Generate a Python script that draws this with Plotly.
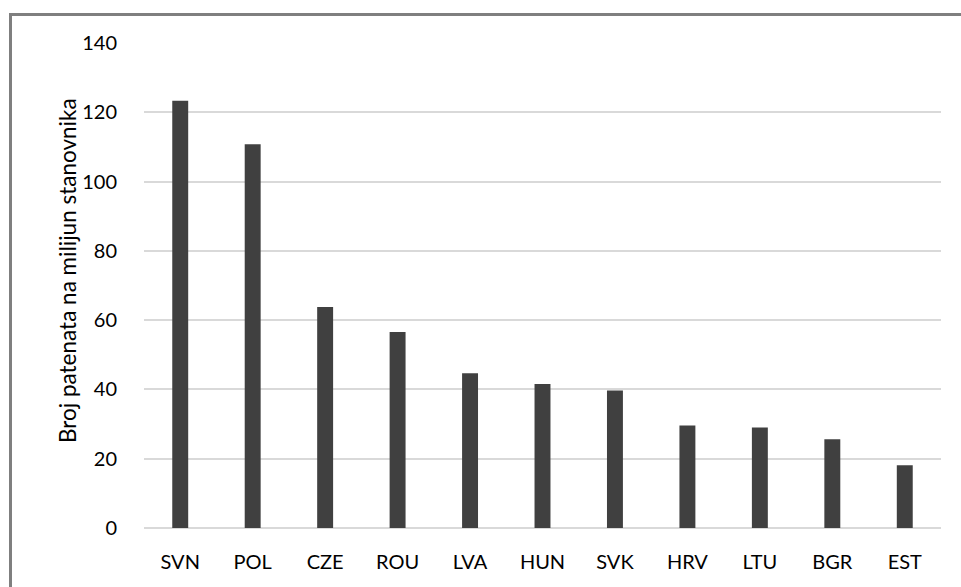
import plotly.graph_objects as go

countries = ["SVN", "POL", "CZE", "ROU", "LVA", "HUN", "SVK", "HRV", "LTU", "BGR", "EST"]
patents = [123.3, 110.8, 63.8, 56.6, 44.7, 41.6, 39.7, 29.6, 29.0, 25.6, 18.1]
y_ticks = [0, 20, 40, 60, 80, 100, 120, 140]
y_title = "Broj patenata na milijun stanovnika"

W, H = 961, 587
ml, mr, mt, mb = 144, 20, 43, 59
pw, ph = W - ml - mr, H - mt - mb

fig = go.Figure(go.Bar(x=countries, y=patents, marker=dict(color="#404040", line=dict(width=0)),
                       width=0.22))

tfont = dict(family="Lato, Calibri, sans-serif", size=20, color="#000000")
hfont = dict(family="Lato, Calibri, sans-serif", size=22.5, color="#000000")

fig.update_layout(
    width=W, height=H,
    margin=dict(l=ml, r=mr, t=mt, b=mb, pad=0),
    plot_bgcolor="white", paper_bgcolor="white",
    font=tfont, showlegend=False,
    xaxis=dict(showgrid=False, showline=False, ticks="outside", ticklen=16, tickcolor="rgba(0,0,0,0)",
               tickfont=tfont, automargin=False),
    yaxis=dict(range=[0, 140], tickvals=y_ticks, showgrid=True, gridcolor="#d9d9d9", gridwidth=2,
               zeroline=True, zerolinecolor="#d9d9d9", zerolinewidth=2,
               ticks="outside", ticklen=22, tickcolor="rgba(0,0,0,0)", tickfont=tfont,
               automargin=False),
)

# y-axis title as rotated annotation
fig.add_annotation(text=y_title, textangle=-90, showarrow=False, font=hfont,
                   xref="paper", yref="paper", x=(67 - ml) / pw, y=1 - (271 - mt) / ph,
                   xanchor="center", yanchor="middle")

# outer frame (only top and left edges fall inside the picture)
x0 = (10.5 - ml) / pw
y1 = 1 + (mt - 14.5) / ph
fig.add_shape(type="rect", xref="paper", yref="paper", x0=x0, x1=1.3, y0=-0.4, y1=y1,
              line=dict(color="#7f7f7f", width=3), fillcolor="rgba(0,0,0,0)", layer="below")

fig.write_html("out.html", config={"displayModeBar": False},
               post_script="document.body.style.margin='0';")
